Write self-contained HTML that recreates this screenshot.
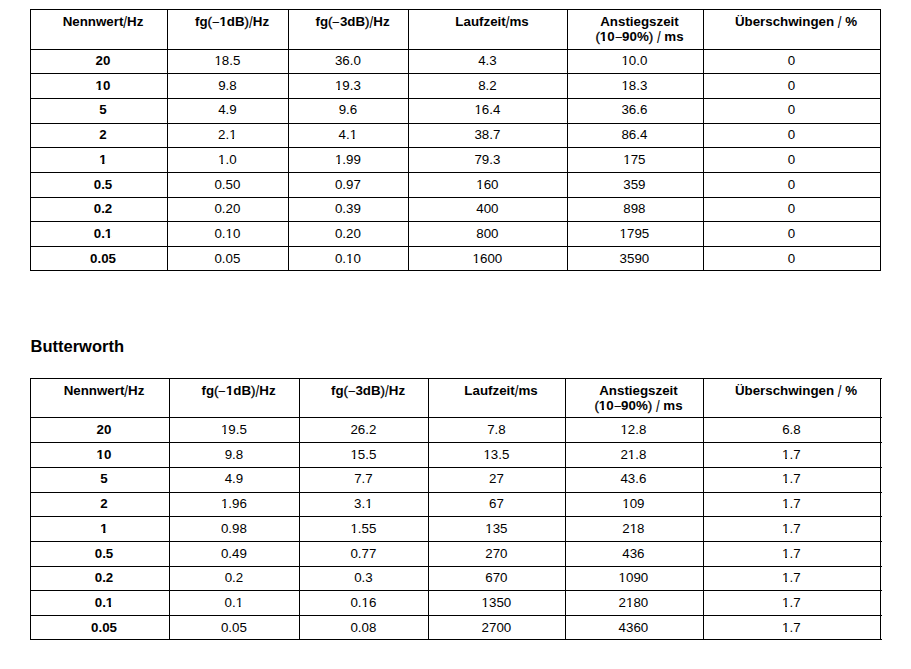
<!DOCTYPE html>
<html><head><meta charset="utf-8"><style>
html,body{margin:0;padding:0;background:#fff;width:911px;height:669px;overflow:hidden}
body{position:relative;font-family:"Liberation Sans",sans-serif;color:#000}
.h{position:absolute;height:1px;background:#000}
.v{position:absolute;width:1px;background:#000}
.t{position:absolute;font-size:13.33px;line-height:15px;text-align:center;white-space:nowrap}
.b{font-weight:bold}
.n{font-weight:normal}
.m{font-weight:normal;-webkit-text-stroke:0.35px #000}
.o1{display:inline-block;clip-path:polygon(0 0,100% 0,100% 10.9px,4.8px 10.9px,4.8px 100%,3.1px 100%,3.1px 10.9px,0 10.9px)}
.b .o1{clip-path:polygon(0 0,100% 0,100% 10.3px,5.2px 10.3px,5.2px 100%,2.85px 100%,2.85px 10.3px,0 10.3px)}
.d{display:inline-block;transform:scaleX(0.82)}
.s{display:inline-block;transform:translateY(0.5px) scaleY(1.3)}
</style></head><body>
<div class="h" style="left:30px;top:9px;width:851px"></div>
<div class="h" style="left:30px;top:49px;width:851px"></div>
<div class="h" style="left:30px;top:73px;width:851px"></div>
<div class="h" style="left:30px;top:98px;width:851px"></div>
<div class="h" style="left:30px;top:123px;width:851px"></div>
<div class="h" style="left:30px;top:147px;width:851px"></div>
<div class="h" style="left:30px;top:172px;width:851px"></div>
<div class="h" style="left:30px;top:197px;width:851px"></div>
<div class="h" style="left:30px;top:221px;width:851px"></div>
<div class="h" style="left:30px;top:246px;width:851px"></div>
<div class="h" style="left:30px;top:270px;width:851px"></div>
<div class="v" style="left:30px;top:9px;height:262px"></div>
<div class="v" style="left:167px;top:9px;height:262px"></div>
<div class="v" style="left:288px;top:9px;height:262px"></div>
<div class="v" style="left:408px;top:9px;height:262px"></div>
<div class="v" style="left:567px;top:9px;height:262px"></div>
<div class="v" style="left:703px;top:9px;height:262px"></div>
<div class="v" style="left:880px;top:9px;height:262px"></div>
<div class="t b" style="left:39.00px;width:128.00px;top:13.50px">Nennwert<span class="n s">/</span>Hz</div>
<div class="t b" style="left:176.00px;width:112.00px;top:13.50px">fg<span class="m">(</span><span class="m d">&#8211;</span><span class="o1">1</span>dB<span class="m">)</span><span class="n s">/</span>Hz</div>
<div class="t b" style="left:297.00px;width:111.00px;top:13.50px">fg<span class="m">(</span><span class="m d">&#8211;</span>3dB<span class="m">)</span><span class="n s">/</span>Hz</div>
<div class="t b" style="left:417.00px;width:150.00px;top:13.50px">Laufzeit<span class="n s">/</span>ms</div>
<div class="t b" style="left:576.00px;width:127.00px;top:13.50px">Anstiegszeit<br><span class="m">(</span><span class="o1">1</span>0<span class="m d">&#8211;</span>90%<span class="m">)</span> <span class="n s">/</span> ms</div>
<div class="t b" style="left:712.00px;width:168.00px;top:13.50px">&Uuml;berschwingen <span class="n s">/</span> %</div>
<div class="t b" style="left:39.00px;width:128.00px;top:53.00px">20</div>
<div class="t" style="left:166.80px;width:121.20px;top:53.00px"><span class="o1">1</span>8.5</div>
<div class="t" style="left:287.80px;width:120.20px;top:53.00px">36.0</div>
<div class="t" style="left:407.80px;width:159.20px;top:53.00px">4.3</div>
<div class="t" style="left:565.80px;width:137.20px;top:53.00px"><span class="o1">1</span>0.0</div>
<div class="t" style="left:702.80px;width:177.20px;top:53.00px">0</div>
<div class="t b" style="left:39.00px;width:128.00px;top:78.00px"><span class="o1">1</span>0</div>
<div class="t" style="left:166.80px;width:121.20px;top:78.00px">9.8</div>
<div class="t" style="left:287.80px;width:120.20px;top:78.00px"><span class="o1">1</span>9.3</div>
<div class="t" style="left:407.80px;width:159.20px;top:78.00px">8.2</div>
<div class="t" style="left:565.80px;width:137.20px;top:78.00px"><span class="o1">1</span>8.3</div>
<div class="t" style="left:702.80px;width:177.20px;top:78.00px">0</div>
<div class="t b" style="left:39.00px;width:128.00px;top:102.00px">5</div>
<div class="t" style="left:166.80px;width:121.20px;top:102.00px">4.9</div>
<div class="t" style="left:287.80px;width:120.20px;top:102.00px">9.6</div>
<div class="t" style="left:407.80px;width:159.20px;top:102.00px"><span class="o1">1</span>6.4</div>
<div class="t" style="left:565.80px;width:137.20px;top:102.00px">36.6</div>
<div class="t" style="left:702.80px;width:177.20px;top:102.00px">0</div>
<div class="t b" style="left:39.00px;width:128.00px;top:127.00px">2</div>
<div class="t" style="left:166.80px;width:121.20px;top:127.00px">2.<span class="o1">1</span></div>
<div class="t" style="left:287.80px;width:120.20px;top:127.00px">4.<span class="o1">1</span></div>
<div class="t" style="left:407.80px;width:159.20px;top:127.00px">38.7</div>
<div class="t" style="left:565.80px;width:137.20px;top:127.00px">86.4</div>
<div class="t" style="left:702.80px;width:177.20px;top:127.00px">0</div>
<div class="t b" style="left:39.00px;width:128.00px;top:152.00px"><span class="o1">1</span></div>
<div class="t" style="left:166.80px;width:121.20px;top:152.00px"><span class="o1">1</span>.0</div>
<div class="t" style="left:287.80px;width:120.20px;top:152.00px"><span class="o1">1</span>.99</div>
<div class="t" style="left:407.80px;width:159.20px;top:152.00px">79.3</div>
<div class="t" style="left:565.80px;width:137.20px;top:152.00px"><span class="o1">1</span>75</div>
<div class="t" style="left:702.80px;width:177.20px;top:152.00px">0</div>
<div class="t b" style="left:39.00px;width:128.00px;top:177.00px">0.5</div>
<div class="t" style="left:166.80px;width:121.20px;top:177.00px">0.50</div>
<div class="t" style="left:287.80px;width:120.20px;top:177.00px">0.97</div>
<div class="t" style="left:407.80px;width:159.20px;top:177.00px"><span class="o1">1</span>60</div>
<div class="t" style="left:565.80px;width:137.20px;top:177.00px">359</div>
<div class="t" style="left:702.80px;width:177.20px;top:177.00px">0</div>
<div class="t b" style="left:39.00px;width:128.00px;top:201.00px">0.2</div>
<div class="t" style="left:166.80px;width:121.20px;top:201.00px">0.20</div>
<div class="t" style="left:287.80px;width:120.20px;top:201.00px">0.39</div>
<div class="t" style="left:407.80px;width:159.20px;top:201.00px">400</div>
<div class="t" style="left:565.80px;width:137.20px;top:201.00px">898</div>
<div class="t" style="left:702.80px;width:177.20px;top:201.00px">0</div>
<div class="t b" style="left:39.00px;width:128.00px;top:226.00px">0.<span class="o1">1</span></div>
<div class="t" style="left:166.80px;width:121.20px;top:226.00px">0.<span class="o1">1</span>0</div>
<div class="t" style="left:287.80px;width:120.20px;top:226.00px">0.20</div>
<div class="t" style="left:407.80px;width:159.20px;top:226.00px">800</div>
<div class="t" style="left:565.80px;width:137.20px;top:226.00px"><span class="o1">1</span>795</div>
<div class="t" style="left:702.80px;width:177.20px;top:226.00px">0</div>
<div class="t b" style="left:39.00px;width:128.00px;top:251.00px">0.05</div>
<div class="t" style="left:166.80px;width:121.20px;top:251.00px">0.05</div>
<div class="t" style="left:287.80px;width:120.20px;top:251.00px">0.<span class="o1">1</span>0</div>
<div class="t" style="left:407.80px;width:159.20px;top:251.00px"><span class="o1">1</span>600</div>
<div class="t" style="left:565.80px;width:137.20px;top:251.00px">3590</div>
<div class="t" style="left:702.80px;width:177.20px;top:251.00px">0</div>
<div class="t b" style="left:30.5px;top:337px;font-size:16.5px;line-height:18px;text-align:left">Butterworth</div>
<div class="h" style="left:30px;top:378px;width:852px"></div>
<div class="h" style="left:30px;top:417px;width:852px"></div>
<div class="h" style="left:30px;top:442px;width:852px"></div>
<div class="h" style="left:30px;top:467px;width:852px"></div>
<div class="h" style="left:30px;top:492px;width:852px"></div>
<div class="h" style="left:30px;top:516px;width:852px"></div>
<div class="h" style="left:30px;top:541px;width:852px"></div>
<div class="h" style="left:30px;top:566px;width:852px"></div>
<div class="h" style="left:30px;top:590px;width:852px"></div>
<div class="h" style="left:30px;top:615px;width:852px"></div>
<div class="h" style="left:30px;top:639px;width:852px"></div>
<div class="v" style="left:30px;top:378px;height:262px"></div>
<div class="v" style="left:169px;top:378px;height:262px"></div>
<div class="v" style="left:299px;top:378px;height:262px"></div>
<div class="v" style="left:428px;top:378px;height:262px"></div>
<div class="v" style="left:565px;top:378px;height:262px"></div>
<div class="v" style="left:703px;top:378px;height:262px"></div>
<div class="v" style="left:880px;top:378px;height:262px"></div>
<div class="t b" style="left:39.00px;width:130.00px;top:382.50px">Nennwert<span class="n s">/</span>Hz</div>
<div class="t b" style="left:178.00px;width:121.00px;top:382.50px">fg<span class="m">(</span><span class="m d">&#8211;</span><span class="o1">1</span>dB<span class="m">)</span><span class="n s">/</span>Hz</div>
<div class="t b" style="left:308.00px;width:120.00px;top:382.50px">fg<span class="m">(</span><span class="m d">&#8211;</span>3dB<span class="m">)</span><span class="n s">/</span>Hz</div>
<div class="t b" style="left:437.00px;width:128.00px;top:382.50px">Laufzeit<span class="n s">/</span>ms</div>
<div class="t b" style="left:574.00px;width:129.00px;top:382.50px">Anstiegszeit<br><span class="m">(</span><span class="o1">1</span>0<span class="m d">&#8211;</span>90%<span class="m">)</span> <span class="n s">/</span> ms</div>
<div class="t b" style="left:712.00px;width:168.00px;top:382.50px">&Uuml;berschwingen <span class="n s">/</span> %</div>
<div class="t b" style="left:39.00px;width:130.00px;top:422.00px">20</div>
<div class="t" style="left:168.80px;width:130.20px;top:422.00px"><span class="o1">1</span>9.5</div>
<div class="t" style="left:298.80px;width:129.20px;top:422.00px">26.2</div>
<div class="t" style="left:427.80px;width:137.20px;top:422.00px">7.8</div>
<div class="t" style="left:563.80px;width:139.20px;top:422.00px"><span class="o1">1</span>2.8</div>
<div class="t" style="left:702.80px;width:177.20px;top:422.00px">6.8</div>
<div class="t b" style="left:39.00px;width:130.00px;top:447.00px"><span class="o1">1</span>0</div>
<div class="t" style="left:168.80px;width:130.20px;top:447.00px">9.8</div>
<div class="t" style="left:298.80px;width:129.20px;top:447.00px"><span class="o1">1</span>5.5</div>
<div class="t" style="left:427.80px;width:137.20px;top:447.00px"><span class="o1">1</span>3.5</div>
<div class="t" style="left:563.80px;width:139.20px;top:447.00px">2<span class="o1">1</span>.8</div>
<div class="t" style="left:702.80px;width:177.20px;top:447.00px"><span class="o1">1</span>.7</div>
<div class="t b" style="left:39.00px;width:130.00px;top:471.00px">5</div>
<div class="t" style="left:168.80px;width:130.20px;top:471.00px">4.9</div>
<div class="t" style="left:298.80px;width:129.20px;top:471.00px">7.7</div>
<div class="t" style="left:427.80px;width:137.20px;top:471.00px">27</div>
<div class="t" style="left:563.80px;width:139.20px;top:471.00px">43.6</div>
<div class="t" style="left:702.80px;width:177.20px;top:471.00px"><span class="o1">1</span>.7</div>
<div class="t b" style="left:39.00px;width:130.00px;top:496.00px">2</div>
<div class="t" style="left:168.80px;width:130.20px;top:496.00px"><span class="o1">1</span>.96</div>
<div class="t" style="left:298.80px;width:129.20px;top:496.00px">3.<span class="o1">1</span></div>
<div class="t" style="left:427.80px;width:137.20px;top:496.00px">67</div>
<div class="t" style="left:563.80px;width:139.20px;top:496.00px"><span class="o1">1</span>09</div>
<div class="t" style="left:702.80px;width:177.20px;top:496.00px"><span class="o1">1</span>.7</div>
<div class="t b" style="left:39.00px;width:130.00px;top:521.00px"><span class="o1">1</span></div>
<div class="t" style="left:168.80px;width:130.20px;top:521.00px">0.98</div>
<div class="t" style="left:298.80px;width:129.20px;top:521.00px"><span class="o1">1</span>.55</div>
<div class="t" style="left:427.80px;width:137.20px;top:521.00px"><span class="o1">1</span>35</div>
<div class="t" style="left:563.80px;width:139.20px;top:521.00px">2<span class="o1">1</span>8</div>
<div class="t" style="left:702.80px;width:177.20px;top:521.00px"><span class="o1">1</span>.7</div>
<div class="t b" style="left:39.00px;width:130.00px;top:546.00px">0.5</div>
<div class="t" style="left:168.80px;width:130.20px;top:546.00px">0.49</div>
<div class="t" style="left:298.80px;width:129.20px;top:546.00px">0.77</div>
<div class="t" style="left:427.80px;width:137.20px;top:546.00px">270</div>
<div class="t" style="left:563.80px;width:139.20px;top:546.00px">436</div>
<div class="t" style="left:702.80px;width:177.20px;top:546.00px"><span class="o1">1</span>.7</div>
<div class="t b" style="left:39.00px;width:130.00px;top:570.00px">0.2</div>
<div class="t" style="left:168.80px;width:130.20px;top:570.00px">0.2</div>
<div class="t" style="left:298.80px;width:129.20px;top:570.00px">0.3</div>
<div class="t" style="left:427.80px;width:137.20px;top:570.00px">670</div>
<div class="t" style="left:563.80px;width:139.20px;top:570.00px"><span class="o1">1</span>090</div>
<div class="t" style="left:702.80px;width:177.20px;top:570.00px"><span class="o1">1</span>.7</div>
<div class="t b" style="left:39.00px;width:130.00px;top:595.00px">0.<span class="o1">1</span></div>
<div class="t" style="left:168.80px;width:130.20px;top:595.00px">0.<span class="o1">1</span></div>
<div class="t" style="left:298.80px;width:129.20px;top:595.00px">0.<span class="o1">1</span>6</div>
<div class="t" style="left:427.80px;width:137.20px;top:595.00px"><span class="o1">1</span>350</div>
<div class="t" style="left:563.80px;width:139.20px;top:595.00px">2<span class="o1">1</span>80</div>
<div class="t" style="left:702.80px;width:177.20px;top:595.00px"><span class="o1">1</span>.7</div>
<div class="t b" style="left:39.00px;width:130.00px;top:620.00px">0.05</div>
<div class="t" style="left:168.80px;width:130.20px;top:620.00px">0.05</div>
<div class="t" style="left:298.80px;width:129.20px;top:620.00px">0.08</div>
<div class="t" style="left:427.80px;width:137.20px;top:620.00px">2700</div>
<div class="t" style="left:563.80px;width:139.20px;top:620.00px">4360</div>
<div class="t" style="left:702.80px;width:177.20px;top:620.00px"><span class="o1">1</span>.7</div>
</body></html>
